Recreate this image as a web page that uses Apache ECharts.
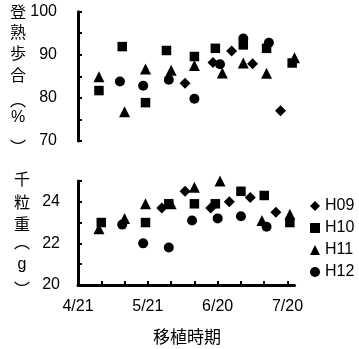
<!DOCTYPE html>
<html><head><meta charset="utf-8">
<script src="https://cdn.jsdelivr.net/npm/echarts@6/dist/echarts.min.js"></script>
<style>html,body{margin:0;padding:0;background:#fff}#c{width:359px;height:349px}</style>
</head><body><div id="c"></div>
<script>
// ---- data ----
const seriesNames = ['H09', 'H10', 'H11', 'H12'];
const xTickLabels = ['4/21', '5/21', '6/20', '7/20'];
const ratioTicks = [70, 80, 90, 100];
const weightTicks = [20, 22, 24];

// 登熟歩合 (%)
const H09_ratioDates = ['6/6', '6/18', '6/26', '7/5', '7/17'];
const H09_ratio      = [83.4, 88.2, 90.9, 87.9, 77.0];
const H10_ratioDates = ['4/30', '5/10', '5/20', '5/29', '6/10', '6/19', '7/1', '7/11', '7/22'];
const H10_ratio      = [81.7, 91.9, 78.9, 91.0, 89.6, 91.5, 92.3, 91.5, 88.1];
const H11_ratioDates = ['4/30', '5/11', '5/20', '5/31', '6/10', '6/22', '7/1', '7/11', '7/23'];
const H11_ratio      = [84.9, 76.8, 86.7, 86.4, 87.5, 85.8, 88.1, 85.7, 89.3];
const H12_ratioDates = ['5/9', '5/19', '5/30', '6/10', '6/21', '7/1', '7/12'];
const H12_ratio      = [83.8, 82.8, 84.2, 79.8, 87.8, 93.8, 92.8];

// 千粒重 (g)
const H09_weightDates = ['5/27', '6/6', '6/17', '6/25', '7/4', '7/15'];
const H09_weight      = [23.7, 24.5, 23.7, 24.0, 24.2, 23.5];
const H10_weightDates = ['5/1', '5/20', '5/30', '6/10', '6/19', '6/30', '7/10', '7/21'];
const H10_weight      = [23.0, 23.0, 23.9, 23.9, 23.9, 24.5, 24.3, 23.0];
const H11_weightDates = ['4/30', '5/11', '5/20', '5/31', '6/10', '6/21', '7/9', '7/21'];
const H11_weight      = [22.7, 23.2, 23.9, 23.9, 24.7, 25.0, 23.1, 23.4];
const H12_weightDates = ['5/10', '5/19', '5/30', '6/9', '6/20', '6/30', '7/11'];
const H12_weight      = [22.9, 22.0, 21.8, 23.1, 23.2, 23.3, 22.8];

// ---- helpers ----
const base = new Date(2000, 3, 21);
const toDay = s => { const [m, d] = s.split('/').map(Number); return Math.round((new Date(2000, m - 1, d) - base) / 86400000); };
const pairs = (dates, vals) => dates.map((d, i) => [toDay(d), vals[i]]);

const ratioData = { H09: pairs(H09_ratioDates, H09_ratio), H10: pairs(H10_ratioDates, H10_ratio), H11: pairs(H11_ratioDates, H11_ratio), H12: pairs(H12_ratioDates, H12_ratio) };
const weightData = { H09: pairs(H09_weightDates, H09_weight), H10: pairs(H10_weightDates, H10_weight), H11: pairs(H11_weightDates, H11_weight), H12: pairs(H12_weightDates, H12_weight) };

const symbolOf = { H09: 'diamond', H10: 'rect', H11: 'triangle', H12: 'circle' };
const sizeOf = { H09: 11, H10: 9.5, H11: 11, H12: 10 };

const xTickDays = xTickLabels.map(toDay);
const xMax = toDay('7/23');
const numFont = 'Liberation Sans, Arial, sans-serif';
const cjkFont = 'Noto Sans CJK JP, sans-serif';
const black = '#000';

const series = [];
seriesNames.forEach(n => {
  const common = { name: n, type: 'scatter', symbol: symbolOf[n], symbolSize: sizeOf[n], itemStyle: { color: black, opacity: 1 }, emphasis: { disabled: true }, clip: false };
  series.push(Object.assign({ xAxisIndex: 0, yAxisIndex: 0, data: ratioData[n] }, common));
  series.push(Object.assign({ xAxisIndex: 1, yAxisIndex: 1, data: weightData[n] }, common));
});

const xCommon = { type: 'value', min: 0, max: xMax, interval: 10, splitLine: { show: false } };

const vtext = (chars, x, ys) => chars.map((c, i) => ({
  type: 'text', x: x, y: ys[i],
  style: { text: c, font: ((c === '%' || c === 'g') ? '16px ' + numFont : '16px ' + cjkFont), fill: black, align: 'center', verticalAlign: 'middle' }
}));

const chart = echarts.init(document.getElementById('c'), null, { renderer: 'canvas' });
chart.setOption({
  animation: false,
  backgroundColor: '#fff',
  grid: [
    { left: 78, top: 11.7, width: 216.5, height: 129.3 },
    { left: 78, top: 180.9, width: 216.5, height: 104.1 }
  ],
  xAxis: [
    Object.assign({}, xCommon, { gridIndex: 0, show: false }),
    Object.assign({}, xCommon, { gridIndex: 1,
      axisLine: { show: true, onZero: false, lineStyle: { color: black, width: 3 } },
      axisTick: { show: true, inside: true, length: 4, lineStyle: { color: black, width: 2 }, customValues: [10, 20, 30, 40, 50, 60, 70, 80, 90] },
      axisLabel: { show: true, margin: 14, color: black, fontFamily: numFont, fontSize: 16, customValues: xTickDays,
        formatter: v => { const i = xTickDays.indexOf(Math.round(v)); return i >= 0 ? xTickLabels[i] : ''; } } })
  ],
  yAxis: [
    { type: 'value', gridIndex: 0, min: 70, max: 100, interval: 5, splitLine: { show: false },
      axisLine: { show: true, onZero: false, lineStyle: { color: black, width: 3 } },
      axisTick: { show: true, inside: true, length: 4, lineStyle: { color: black, width: 2 } },
      axisLabel: { margin: 21, color: black, fontFamily: numFont, fontSize: 16, customValues: ratioTicks } },
    { type: 'value', gridIndex: 1, min: 20, max: 25, interval: 1, splitLine: { show: false },
      axisLine: { show: true, onZero: false, lineStyle: { color: black, width: 3 } },
      axisTick: { show: true, inside: true, length: 4, lineStyle: { color: black, width: 2 } },
      axisLabel: { margin: 18, color: black, fontFamily: numFont, fontSize: 16, customValues: weightTicks } }
  ],
  legend: {
    orient: 'vertical', left: 310, top: 198, padding: 0, itemWidth: 10, itemHeight: 10, itemGap: 6,
    textStyle: { color: black, fontFamily: numFont, fontSize: 16, lineHeight: 16 },
    data: seriesNames.map(n => ({ name: n, icon: symbolOf[n], itemStyle: { color: black, opacity: 1 } }))
  },
  graphic: [
    ...vtext(['登', '熟', '歩', '合', '︵', '%', '︶'], 18, [12, 32, 53, 75, 100, 118, 147]),
    ...vtext(['千', '粒', '重', '︵', 'g', '︶'], 22, [179, 201.5, 223.5, 242, 265, 289]),
    { type: 'text', x: 187, y: 336.5, style: { text: '移植時期', font: '17px ' + cjkFont, fill: black, align: 'center', verticalAlign: 'middle' } }
  ],
  series: series
});
</script>
</body></html>
